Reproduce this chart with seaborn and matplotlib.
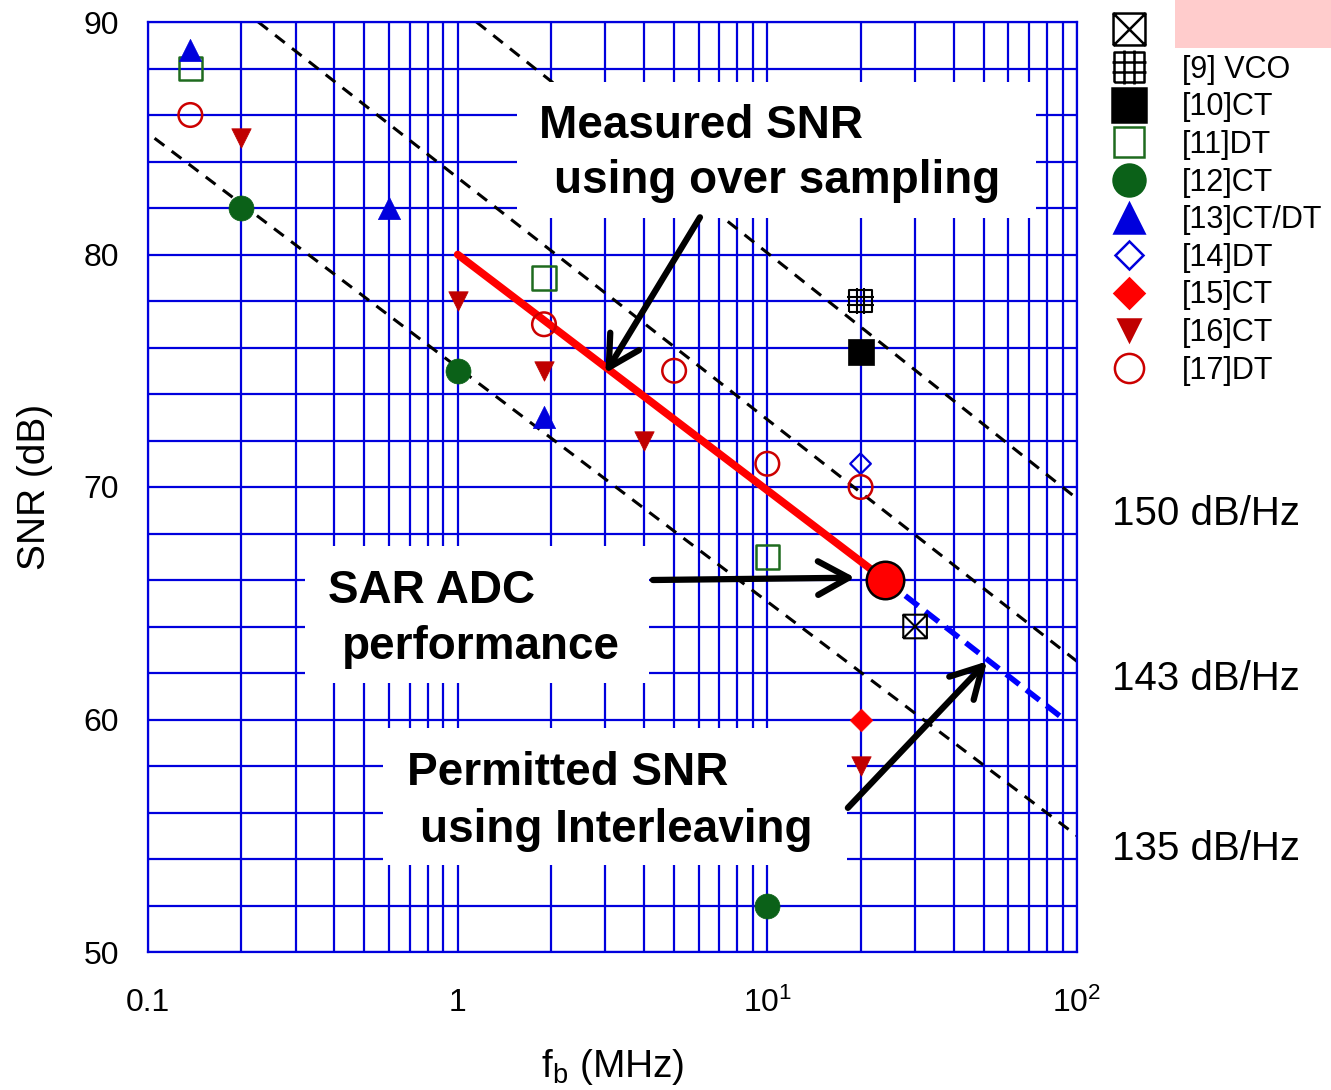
import numpy as np
import matplotlib
matplotlib.use("Agg")
import matplotlib.pyplot as plt
import seaborn as sns
from matplotlib.path import Path
from matplotlib.patches import Rectangle
from matplotlib.lines import Line2D
from matplotlib.ticker import FixedLocator, FixedFormatter, MultipleLocator, LogLocator, NullFormatter

# ---------------- data ----------------
fom150_x = [1.15, 100]
fom150_y = [90, 69.5]
fom143_x = [0.227, 100]
fom143_y = [90, 62.5]
fom135_x = [0.105, 100]
fom135_y = [85, 55]
fom_labels = ["150 dB/Hz", "143 dB/Hz", "135 dB/Hz"]

sar_line_x = [1, 24]
sar_line_y = [80, 66]
sar_point_x = [24]
sar_point_y = [66]
interleave_x = [24, 91]
interleave_y = [66, 60]

ref9x_x = [30];   ref9x_y = [64]
ref9_x = [20];    ref9_y = [78]
ref10_x = [20];   ref10_y = [75.8]
ref11_x = [0.137, 1.9, 10];  ref11_y = [88, 79, 67]
ref12_x = [0.2, 1, 10];      ref12_y = [82, 75, 52]
ref13_x = [0.137, 0.6, 1.9]; ref13_y = [88.8, 82, 73]
ref14_x = [20];   ref14_y = [71]
ref15_x = [20];   ref15_y = [60]
ref16_x = [0.2, 1, 1.9, 4, 20];  ref16_y = [85, 78, 75, 72, 58]
ref17_x = [0.137, 1.9, 5, 10, 20]; ref17_y = [86, 77, 75, 71, 70]

legend_labels = ["", "[9] VCO", "[10]CT", "[11]DT", "[12]CT", "[13]CT/DT",
                 "[14]DT", "[15]CT", "[16]CT", "[17]DT"]

x_ticks = [0.1, 1, 10, 100]
x_ticklabels = ["0.1", "1", "$10^1$", "$10^2$"]
y_ticks = [50, 60, 70, 80, 90]

# ---------------- style ----------------
sns.set_style("white")
plt.rcParams["font.family"] = ["Liberation Sans", "DejaVu Sans"]
plt.rcParams["mathtext.fontset"] = "custom"
plt.rcParams["mathtext.rm"] = "Liberation Sans"
plt.rcParams["mathtext.it"] = "Liberation Sans:italic"
plt.rcParams["mathtext.bf"] = "Liberation Sans:bold"
for k in ["text.color", "axes.labelcolor", "xtick.labelcolor", "ytick.labelcolor"]:
    plt.rcParams[k] = "black"

W, H = 1331, 1090
fig = plt.figure(figsize=(W / 100, H / 100), dpi=100)
ax = fig.add_axes([148 / W, 1 - 952 / H, (1077 - 148) / W, (952 - 22) / H])

def fx(px):
    return px / W

def fy(py):
    return 1 - py / H

GRID = "#0000DD"
ax.set_xscale("log")
ax.set_xlim(0.1, 100)
ax.set_ylim(50, 90)
ax.xaxis.set_major_locator(FixedLocator(x_ticks))
ax.xaxis.set_major_formatter(FixedFormatter(x_ticklabels))
ax.xaxis.set_minor_locator(LogLocator(base=10, subs=np.arange(2, 10)))
ax.xaxis.set_minor_formatter(NullFormatter())
ax.yaxis.set_major_locator(FixedLocator(y_ticks))
ax.yaxis.set_minor_locator(MultipleLocator(2))
ax.set_axisbelow(True)
ax.grid(True, which="both", color=GRID, lw=1.6)
for s in ax.spines.values():
    s.set_color(GRID)
    s.set_linewidth(1.6)
ax.tick_params(axis="x", which="both", direction="out", length=3, width=1.6,
               color=GRID, labelsize=23, pad=23, labelcolor="black")
ax.tick_params(axis="y", which="both", length=0, labelsize=23, pad=21,
               labelcolor="black")
ax.set_xlabel("f$_\\mathregular{b}$ (MHz)", fontsize=28, labelpad=20, color="black")
ax.set_ylabel("SNR (dB)", fontsize=28, labelpad=22, color="black")

# FOM lines
for xs, ys in [(fom150_x, fom150_y), (fom143_x, fom143_y), (fom135_x, fom135_y)]:
    sns.lineplot(x=xs, y=ys, ax=ax, color="black", lw=2.2,
                 linestyle=(0, (4, 3)), zorder=1.5, legend=False)

# SAR ADC line and interleave extension
sns.lineplot(x=sar_line_x, y=sar_line_y, ax=ax, color="#FF0000", lw=5.5,
             zorder=3, legend=False)
sns.lineplot(x=interleave_x, y=interleave_y, ax=ax, color="#0000FF", lw=4,
             linestyle=(0, (3, 1.6)), zorder=2.8, legend=False)

# custom markers
M, L = Path.MOVETO, Path.LINETO
sq = [(-1, -1), (1, -1), (1, 1), (-1, 1), (-1, -1)]
box_x = Path(sq + [(-1, -1), (1, 1), (-1, 1), (1, -1)],
             [M, L, L, L, L, M, L, M, L])
t = 1 / 3
box_grid = Path(sq + [(-t, -1.15), (-t, 1.15), (t, -1.15), (t, 1.15),
                      (-1.15, -t), (1.15, -t), (-1.15, t), (1.15, t)],
                [M, L, L, L, L, M, L, M, L, M, L, M, L])

DKGREEN = "#0B6118"
SQGREEN = "#1E6B1E"
BLUE = "#0000DD"
RED = "#FF0000"
DKRED = "#C00000"
ORED = "#CC0000"

series = [
    # x, y, marker, size, face, edge, lw, legend size
    (ref9x_x, ref9x_y, box_x, 17, "none", "black", 1.5, 23),
    (ref9_x, ref9_y, box_grid, 19, "none", "black", 1.5, 25),
    (ref10_x, ref10_y, "s", 19, "black", "black", 0.5, 24),
    (ref11_x, ref11_y, "s", 17, "none", SQGREEN, 1.8, 22),
    (ref12_x, ref12_y, "o", 18, DKGREEN, DKGREEN, 0.5, 23),
    (ref13_x, ref13_y, "^", 16, BLUE, BLUE, 0.5, 21),
    (ref14_x, ref14_y, "D", 10.5, "none", BLUE, 1.6, 14.5),
    (ref15_x, ref15_y, "D", 11.5, RED, RED, 0.5, 15.5),
    (ref16_x, ref16_y, "v", 14, DKRED, DKRED, 0.5, 16),
    (ref17_x, ref17_y, "o", 17, "none", ORED, 1.8, 21),
]

handles = []
for xs, ys, mk, ms, fc, ec, lw, lms in series:
    sns.scatterplot(x=xs, y=ys, ax=ax, marker=mk, s=ms ** 2, color=ec,
                    facecolor=fc, edgecolor=ec, linewidth=lw, zorder=3.5,
                    legend=False, clip_on=False)
    handles.append(Line2D([], [], linestyle="", marker=mk, markersize=lms,
                          markerfacecolor=fc, markeredgecolor=ec,
                          markeredgewidth=max(lw, 1.8)))

# SAR ADC big point
sns.scatterplot(x=sar_point_x, y=sar_point_y, ax=ax, marker="o", s=27 ** 2,
                color=RED, edgecolor="black", linewidth=1.8, zorder=4,
                legend=False)

# white annotation boxes (hide grid)
for (x0, y0, x1, y1) in [(517, 82, 1036, 218), (305, 546, 649, 683),
                         (383, 728, 847, 865)]:
    ax.add_patch(Rectangle((fx(x0), fy(y1)), fx(x1) - fx(x0), fy(y0) - fy(y1),
                           transform=fig.transFigure, facecolor="white",
                           edgecolor="none", zorder=2.5, clip_on=False))

# arrows
arrow_kw = dict(arrowstyle="->,head_length=1.0,head_width=0.55", lw=4.5,
                color="black", shrinkA=0, shrinkB=0, mutation_scale=22)
ax.annotate("", xy=(3.0, 74.9), xytext=(6.06, 81.6),
            arrowprops=arrow_kw, zorder=5)
ax.annotate("", xy=(19.2, 66.1), xytext=(4.27, 66.0),
            arrowprops=arrow_kw, zorder=5)
ax.annotate("", xy=(51.2, 62.5), xytext=(18.2, 56.2),
            arrowprops=arrow_kw, zorder=5)

# annotation texts
bold = dict(fontsize=33, fontweight="bold", ha="left", va="baseline",
            zorder=6, color="black")
fig.text(fx(539), fy(138), "Measured SNR", **bold)
fig.text(fx(554), fy(193), "using over sampling", **bold)
fig.text(fx(328), fy(603), "SAR ADC", **bold)
fig.text(fx(342), fy(659), "performance", **bold)
fig.text(fx(407), fy(785), "Permitted SNR", **bold)
fig.text(fx(420), fy(842), "using Interleaving", **bold)

for lab, py in zip(fom_labels, [525, 690, 860]):
    fig.text(fx(1112), fy(py), lab, fontsize=29, ha="left", va="baseline",
             color="black")

# pink rectangle near legend
fig.add_artist(Rectangle((fx(1175), fy(48)), fx(1331) - fx(1175), fy(0) - fy(48),
                         transform=fig.transFigure, facecolor="#FFCCCC",
                         edgecolor="none"))

leg = ax.legend(handles, legend_labels, loc="upper left",
                bbox_to_anchor=(fx(1105), fy(17)), bbox_transform=fig.transFigure,
                frameon=False, fontsize=22, borderpad=0, borderaxespad=0,
                handlelength=1.6, handletextpad=0.93, labelspacing=0.25,
                labelcolor="black")

fig.savefig("out.png", dpi=100)
